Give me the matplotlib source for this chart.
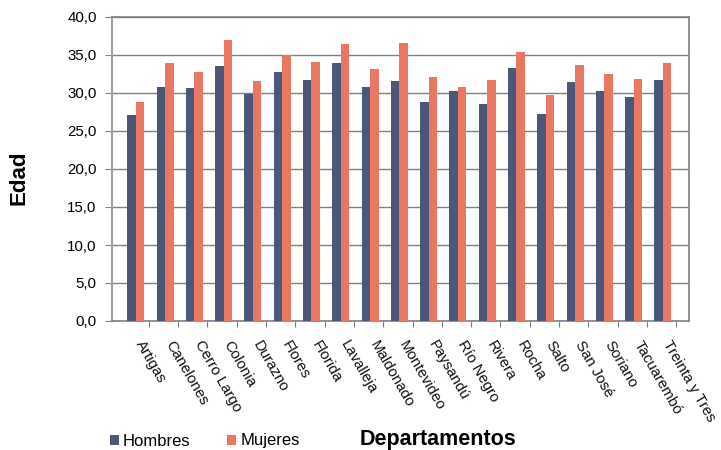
import numpy as np
import matplotlib.pyplot as plt

plt.rcParams['font.family'] = ['Liberation Sans', 'DejaVu Sans']

departamentos = ['Artigas', 'Canelones', 'Cerro Largo', 'Colonia', 'Durazno',
                 'Flores', 'Florida', 'Lavalleja', 'Maldonado', 'Montevideo',
                 'Paysandú', 'Río Negro', 'Rivera', 'Rocha', 'Salto',
                 'San José', 'Soriano', 'Tacuarembó', 'Treinta y Tres']
hombres = [27.1, 30.8, 30.6, 33.5, 29.9, 32.8, 31.75, 33.9, 30.8, 31.6,
           28.85, 30.3, 28.6, 33.3, 27.3, 31.5, 30.3, 29.5, 31.75]
mujeres = [28.85, 34.0, 32.7, 37.0, 31.6, 35.0, 34.1, 36.5, 33.1, 36.6,
           32.15, 30.8, 31.75, 35.45, 29.8, 33.7, 32.5, 31.9, 33.9]
yticks = [0, 5, 10, 15, 20, 25, 30, 35, 40]

c_h = '#4a5779'
c_m = '#e97862'
gris = '#808080'

fig = plt.figure(figsize=(7.21, 4.5), dpi=100)
ax = fig.add_axes([112 / 721, 1 - 321 / 450, 577 / 721, 304 / 450])

x = np.arange(len(departamentos))
w = 0.29
b1 = ax.bar(x + 0.05 - w / 2, hombres, w, color=c_h, label='Hombres', zorder=3)
b2 = ax.bar(x + 0.05 + w / 2, mujeres, w, color=c_m, label='Mujeres', zorder=3)

ax.set_ylim(0, 40)
ax.set_xlim(-0.76, 18.94)
ax.set_yticks(yticks)
ax.set_yticklabels([f'{v:.1f}'.replace('.', ',') for v in yticks], fontsize=10.8)
ax.yaxis.grid(True, color=gris, linewidth=1, zorder=0)
ax.tick_params(axis='y', length=5, color=gris, pad=6)

ax.set_xticks(x + 0.5)
ax.set_xticklabels([])
ax.tick_params(axis='x', length=4, color=gris)
for xi, name in zip(x, departamentos):
    ax.text(xi + 0.37, -2.3, name, rotation=-60, rotation_mode='anchor',
            ha='left', va='top', fontsize=10.8, color='#111111')

for s in ['left', 'bottom', 'right', 'top']:
    ax.spines[s].set_color(gris)
    ax.spines[s].set_linewidth(1.2)
ax.spines['left'].set_color('#a0a0a0')
ax.spines['left'].set_linewidth(1.5)

fig.text(19 / 721, 1 - 178 / 450, 'Edad', rotation=90, ha='center', va='center',
         fontsize=16, fontweight='bold')
fig.text(438 / 721, 1 - 439 / 450, 'Departamentos', ha='center', va='center',
         fontsize=15.5, fontweight='bold')

fig.legend([b1, b2], ['Hombres', 'Mujeres'], loc='center left',
           bbox_to_anchor=(110 / 721, 1 - 441 / 450), ncol=2, frameon=False,
           fontsize=12, handlelength=0.55, handleheight=0.55,
           handletextpad=0.23, columnspacing=2.2, borderpad=0, borderaxespad=0)

fig.savefig('out.png', dpi=100)
